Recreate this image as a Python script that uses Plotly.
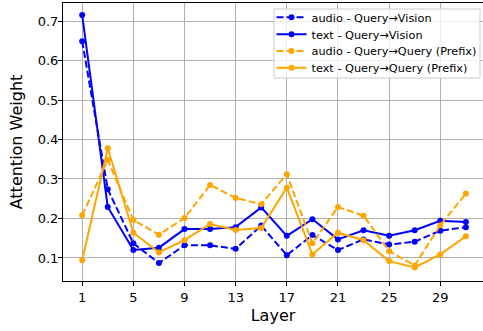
import plotly.graph_objects as go

layers = [1, 3, 5, 7, 9, 11, 13, 15, 17, 19, 21, 23, 25, 27, 29, 31]
audio_qv = [0.649, 0.274, 0.137, 0.087, 0.132, 0.132, 0.123, 0.182, 0.107, 0.158, 0.120, 0.147, 0.134, 0.141, 0.169, 0.178]
text_qv = [0.715, 0.229, 0.120, 0.126, 0.173, 0.173, 0.178, 0.228, 0.156, 0.198, 0.147, 0.170, 0.156, 0.170, 0.194, 0.191]
audio_qq = [0.208, 0.348, 0.196, 0.159, 0.201, 0.285, 0.252, 0.236, 0.312, 0.137, 0.229, 0.207, 0.117, 0.081, 0.183, 0.263]
text_qq = [0.094, 0.378, 0.164, 0.114, 0.145, 0.186, 0.171, 0.176, 0.278, 0.109, 0.164, 0.145, 0.092, 0.076, 0.109, 0.155]
tick_vals = [1, 5, 9, 13, 17, 21, 25, 29]
y_ticks = [0.1, 0.2, 0.3, 0.4, 0.5, 0.6, 0.7]

series = [
    ("audio - Query→Vision", audio_qv, "#0000ff", "7px,3px"),
    ("text - Query→Vision", text_qv, "#0000ff", "solid"),
    ("audio - Query→Query (Prefix)", audio_qq, "#ffa500", "7px,3px"),
    ("text - Query→Query (Prefix)", text_qq, "#ffa500", "solid"),
]

# plot area in pixels: left 63, top 3, bottom 281, right 483
W, H = 483, 331
L, T, B, R = 63, 3, 281, 483
def px_x(p):
    return (p - L) / (R - L)
def px_y(p):
    return 1 - (p - T) / (B - T)

legend_names = ["legend", "legend2", "legend3", "legend4"]
row_centers = [17.3, 34.3, 51.0, 67.7]

fig = go.Figure()
for (name, vals, color, dash), lg in zip(series, legend_names):
    fig.add_trace(go.Scatter(
        x=layers, y=vals, name=name, mode="lines+markers",
        line=dict(color=color, width=2, dash=dash),
        marker=dict(color=color, size=6),
        legend=lg,
    ))

# legend frame
fig.add_shape(
    type="rect", xref="paper", yref="paper",
    x0=px_x(274), x1=px_x(480), y0=px_y(78), y1=px_y(9),
    fillcolor="rgba(255,255,255,0.8)", line=dict(color="#cccccc", width=1),
    layer="above",
)

legend_layout = {}
for lg, yc in zip(legend_names, row_centers):
    legend_layout[lg] = dict(
        xref="container", yref="container",
        x=271.5 / W, y=1 - yc / H, xanchor="left", yanchor="middle",
        bgcolor="rgba(0,0,0,0)", borderwidth=0,
        font=dict(size=11.3, family="DejaVu Sans", color="black"),
        itemwidth=30,
    )

fig.update_layout(
    width=W, height=H,
    margin=dict(l=L, r=0, t=T, b=H - B, autoexpand=False),
    paper_bgcolor="white", plot_bgcolor="white",
    font=dict(family="DejaVu Sans", size=13, color="black"),
    showlegend=True,
    **legend_layout,
)
fig.update_xaxes(
    range=[-0.5, 32.34], tickvals=tick_vals,
    showgrid=True, gridcolor="#b0b0b0", gridwidth=1,
    showline=True, linecolor="black", linewidth=1, mirror=True,
    ticks="outside", ticklen=4, tickcolor="black",
    zeroline=False,
    title=dict(text="Layer", font=dict(size=16), standoff=6),
)
fig.update_yaxes(
    range=[0.0416, 0.7457], tickvals=y_ticks,
    tickformat=".1f",
    showgrid=True, gridcolor="#b0b0b0", gridwidth=1,
    showline=True, linecolor="black", linewidth=1, mirror=True,
    ticks="outside", ticklen=4, tickcolor="black",
    ticklabelstandoff=-3,
    zeroline=False,
    title=dict(text="Attention Weight", font=dict(size=16), standoff=11),
)

fig.write_html(
    "out.html",
    config={"displayModeBar": False},
    post_script="document.body.style.margin='0px';",
)
